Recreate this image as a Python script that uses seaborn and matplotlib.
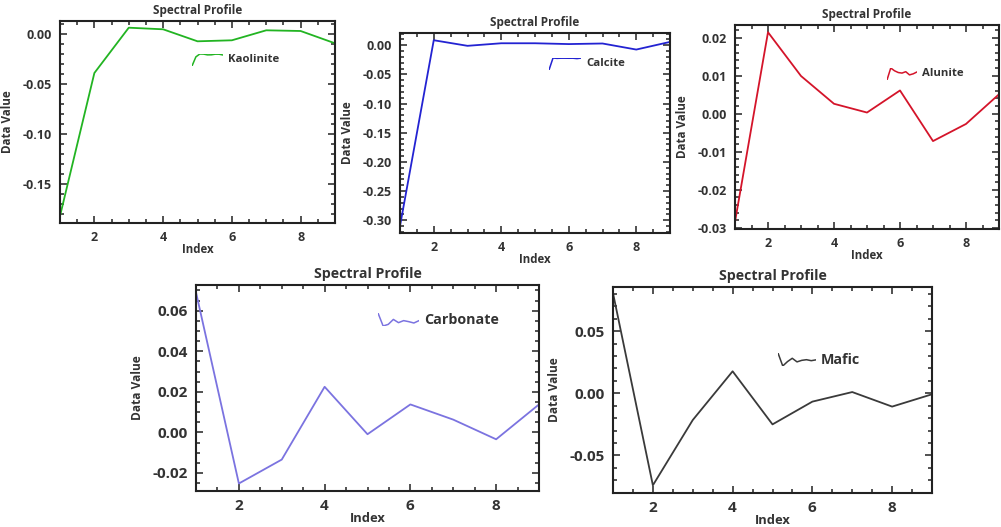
import matplotlib
matplotlib.use("Agg")
import matplotlib.pyplot as plt
from matplotlib.ticker import MultipleLocator, FormatStrFormatter
import seaborn as sns

# Spectral profiles (index 1..9)
index = [1, 2, 3, 4, 5, 6, 7, 8, 9]
kaolinite = [-0.182, -0.039, 0.0063, 0.0047, -0.0073, -0.0063, 0.0037, 0.003, -0.0093]
calcite = [-0.310, 0.0086, -0.001, 0.0034, 0.0034, 0.002, 0.003, -0.0074, 0.0057]
alunite = [-0.0284, 0.0214, 0.0099, 0.0026, 0.0003, 0.0061, -0.0072, -0.0027, 0.0051]
carbonate = [0.0691, -0.0252, -0.0134, 0.0225, -0.0009, 0.0138, 0.0063, -0.0034, 0.0138]
mafic = [0.0806, -0.074, -0.0215, 0.0177, -0.025, -0.0067, 0.001, -0.0107, -0.0008]

names = ["Kaolinite", "Calcite", "Alunite", "Carbonate", "Mafic"]
series = [kaolinite, calcite, alunite, carbonate, mafic]
colors = ["#22b422", "#2323d2", "#d4142a", "#7b73e0", "#3a3a3a"]

W, H = 1001, 527
sns.set_theme(style="white")
plt.rcParams["font.family"] = ["Open Sans", "DejaVu Sans"]
plt.rcParams["axes.unicode_minus"] = False
txt = "#333333"

fig = plt.figure(figsize=(W / 100, H / 100), dpi=100)


def px_axes(l, t, r, b):
    return fig.add_axes([l / W, 1 - b / H, (r - l) / W, (b - t) / H])


# font sizes for the small top row and the larger bottom row
top_fonts = dict(tick=9, ylab=8.4, xlab=8.3, title=8.5, legend=8.2)
bot_fonts = dict(tick=11, ylab=8.6, xlab=9.3, title=10.2, legend=10.3)

# layout per panel: axes box (px), ylim, y major/minor step, legend box
layout = [
    dict(box=(60, 21, 335, 223), ylim=(-0.189, 0.013), major=0.05, minor=0.01,
         leg=(192, 54, 223, 66), fonts=top_fonts),
    dict(box=(400, 33, 670, 233), ylim=(-0.322, 0.021), major=0.05, minor=0.01,
         leg=(549, 58, 581, 70), fonts=top_fonts),
    dict(box=(735, 25, 999, 229), ylim=(-0.0303, 0.0233), major=0.01, minor=0.002,
         leg=(887, 68, 917, 80), fonts=top_fonts),
    dict(box=(196, 285, 539, 491), ylim=(-0.0289, 0.0727), major=0.02, minor=0.005,
         leg=(378, 313, 419, 326), fonts=bot_fonts),
    dict(box=(613, 287, 932, 493), ylim=(-0.0802, 0.0855), major=0.05, minor=0.01,
         leg=(778, 353, 816, 366), fonts=bot_fonts),
]

for name, vals, col, lay in zip(names, series, colors, layout):
    f = lay["fonts"]
    ax = px_axes(*lay["box"])
    sns.lineplot(x=index, y=vals, color=col, lw=1.3, ax=ax)
    ax.set_xlim(1, 9)
    ax.set_ylim(*lay["ylim"])
    ax.xaxis.set_major_locator(MultipleLocator(2))
    ax.xaxis.set_minor_locator(MultipleLocator(0.5))
    ax.yaxis.set_major_locator(MultipleLocator(lay["major"]))
    ax.yaxis.set_minor_locator(MultipleLocator(lay["minor"]))
    ax.yaxis.set_major_formatter(FormatStrFormatter("%.2f"))
    ax.tick_params(which="both", direction="in", top=True, right=True,
                   bottom=True, left=True, color="#222222", width=1.1)
    ax.tick_params(which="major", length=5, labelsize=f["tick"], labelcolor=txt, pad=6)
    ax.tick_params(which="minor", length=3)
    for lab in ax.get_xticklabels() + ax.get_yticklabels():
        lab.set_fontweight("bold")
    for sp in ax.spines.values():
        sp.set_color("#222222")
        sp.set_linewidth(1.5)
    ax.set_xlabel("Index", fontsize=f["xlab"], fontweight="bold", color=txt, labelpad=-1)
    ax.set_ylabel("Data Value", fontsize=f["ylab"], fontweight="bold", color=txt,
                  labelpad=6)
    ax.set_title("Spectral Profile", fontsize=f["title"], fontweight="bold",
                 color=txt, pad=5)

    # ENVI-style legend: a tiny copy of the spectrum next to its name
    l, t, r, b = lay["leg"]
    mini = px_axes(l, t, r, b)
    sns.lineplot(x=index, y=vals, color=col, lw=1.1, ax=mini)
    mini.set_xlim(1, 9)
    mini.margins(0)
    mini.axis("off")
    mini.set_xlabel("")
    mini.set_ylabel("")
    fig.text((r + 5) / W, 1 - ((t + b) / 2) / H, name, fontsize=f["legend"],
             fontweight="bold", color=txt, va="center", ha="left")

fig.savefig("out.png", dpi=100)
